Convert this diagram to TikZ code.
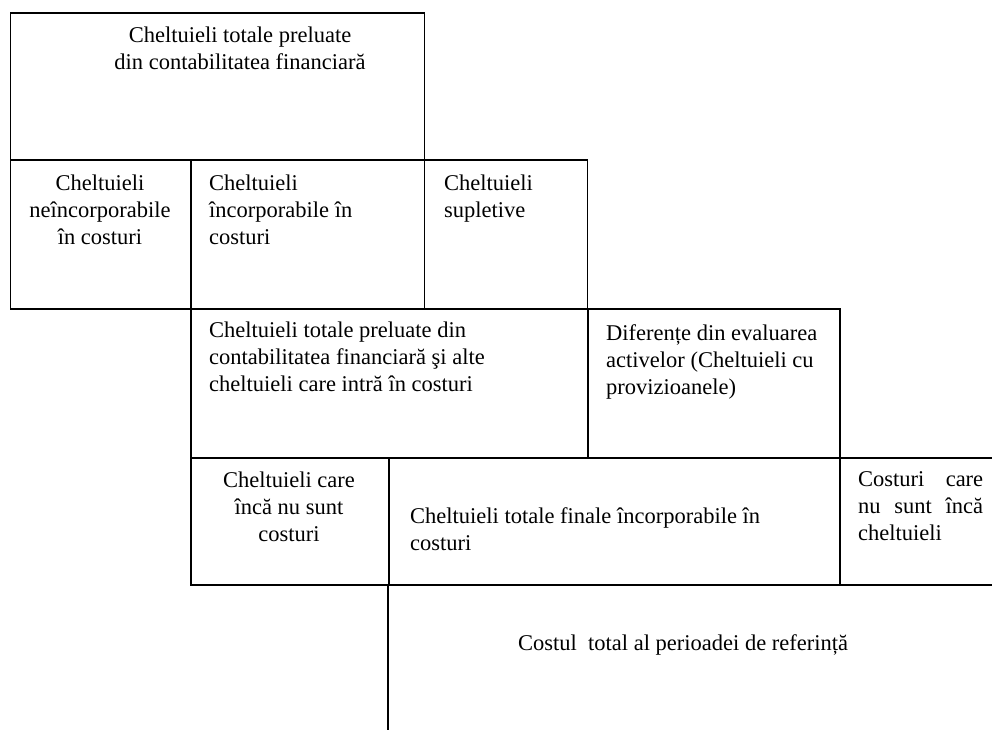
\documentclass[tikz,border=0pt]{standalone}
\usepackage{fontspec}
\setmainfont{Liberation Serif}
\usepackage{tikz}
\usetikzlibrary{positioning}

\tikzset{
  cell/.style={draw, line width=1.6pt, inner sep=0pt, anchor=north west},
  txt/.style={inner sep=0pt, font=\fontsize{22.5}{27}\selectfont}
}

\begin{document}
\begin{tikzpicture}[x=1pt, y=-1pt]
  \path[use as bounding box, clip] (0,0) rectangle (992,730);
  % boxes
  \node[cell, minimum width=414pt, minimum height=147pt] (total) at (9.5,12) {};
  \node[cell, minimum width=180.5pt, minimum height=149pt] (neinc) at (9.5,159) {};
  \node[cell, minimum width=233.5pt, minimum height=149pt] (inc) at (190,159) {};
  \node[cell, minimum width=163pt, minimum height=149pt] (suplet) at (423.5,159) {};
  \node[cell, minimum width=397pt, minimum height=149pt] (altele) at (190,308) {};
  \node[cell, minimum width=252pt, minimum height=149pt] (dif) at (587,308) {};
  \node[cell, minimum width=198pt, minimum height=127pt] (nusunt) at (190,457) {};
  \node[cell, minimum width=451pt, minimum height=127pt] (finale) at (388,457) {};
  \node[cell, minimum width=170pt, minimum height=127pt] (costuri) at (839,457) {};
  % texts
  \node[txt, align=center, anchor=north] (totalT) at (240,27)
    {Cheltuieli totale preluate\\din contabilitatea financiară};
  \node[txt, align=center, anchor=north] (neincT) at (100,175)
    {Cheltuieli\\neîncorporabile\\în costuri};
  \node[txt, align=left, anchor=north west] (incT) at (209,175)
    {Cheltuieli\\încorporabile în\\costuri};
  \node[txt, align=left, anchor=north west] (supletT) at (444,175)
    {Cheltuieli\\supletive};
  \node[txt, align=left, anchor=north west] (alteleT) at (209,322)
    {Cheltuieli totale preluate din\\contabilitatea financiară şi alte\\cheltuieli care intră în costuri};
  \node[txt, align=left, anchor=north west] (difT) at (606,324)
    {Diferențe din evaluarea\\activelor (Cheltuieli cu\\provizioanele)};
  \node[txt, align=center, anchor=north] (nusuntT) at (289,472)
    {Cheltuieli care\\încă nu sunt\\costuri};
  \node[txt, align=left, anchor=north west] (finaleT) at (410,507)
    {Cheltuieli totale finale încorporabile în\\costuri};
  \node[txt, align=left, anchor=north west] (costuriT) at (858,471)
    {\parbox[t]{125pt}{Costuri\hfill care\\nu\hfill sunt\hfill încă\\cheltuieli}};
  \node[txt, anchor=north west] (perioadaT) at (518,634)
    {Costul\ \ total al perioadei de referință};
  % line down
  \coordinate (jos) at (388,730);
  \draw[line width=1.6pt] (finale.south west) -- (jos);
\end{tikzpicture}
\end{document}
